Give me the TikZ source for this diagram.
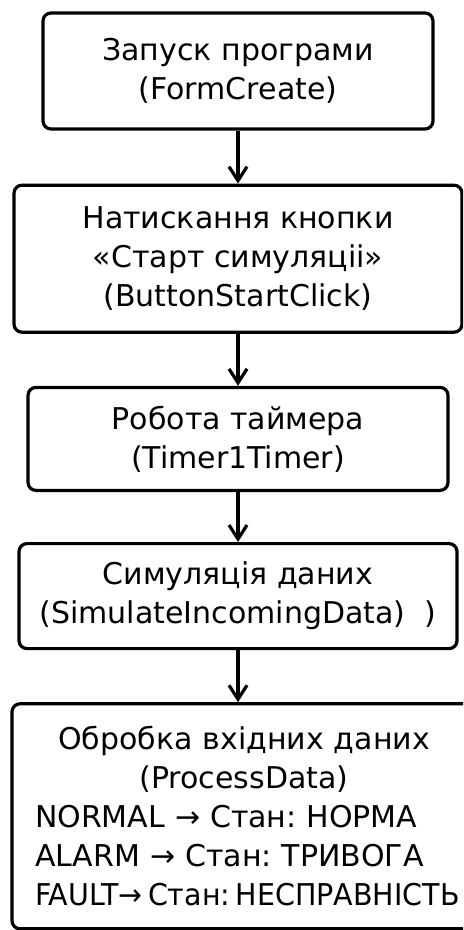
\documentclass[tikz,border=0pt]{standalone}
\usepackage{graphicx}
\usepackage{fontspec}
\setmainfont{DejaVu Sans}
\frenchspacing
\usetikzlibrary{positioning}
\usetikzlibrary{arrows.meta}
\tikzset{
  stepbox/.style={draw, rounded corners=4pt, line width=1.6pt, inner sep=0pt,
    align=center, font=\fontsize{15}{19.5}\selectfont},
  flow/.style={line width=1.6pt, -{Straight Barb[length=7pt,width=9pt]}}
}

\begin{document}
\begin{tikzpicture}
          \useasboundingbox (0,0) rectangle (231.5pt,-465pt);
          \clip (0,0) rectangle (231.5pt,-465pt);

          \node[stepbox, minimum width=195pt, minimum height=58pt] (s1)
            at (119pt,-35.5pt) {Запуск програми\\(FormCreate)};
          \node[stepbox, minimum width=224pt, minimum height=73.5pt,
            below=26.5pt of s1] (s2)
            {Натискання кнопки\\«Старт симуляціі»\\(ButtonStartClick)};
          \node[stepbox, minimum width=210pt, minimum height=51.5pt,
            below=26pt of s2] (s3) {Робота таймера\\(Timer1Timer)};
          \node[stepbox, minimum width=219pt, minimum height=52.5pt,
            below=25pt of s3] (s4)
            {Симуляція даних\\(SimulateIncomingData)~~)};
          \node[stepbox, minimum width=232pt, minimum height=112.5pt,
            text width=209pt, below=26pt of s4, xshift=3pt] (s5)
            {Обробка вхідних даних\\(ProcessData)\\
             \makebox[\linewidth][l]{NORMAL → Стан: НОРМА}\\
             \makebox[\linewidth][l]{ALARM → Стан: ТРИВОГА}\\
             \makebox[\linewidth][l]{\scalebox{0.95}[1]{\spaceskip=0.2em FAULT→ Стан: НЕСПРАВНІСТЬ}}};

          \foreach \i [count=\j from 2] in {1,...,3}{
            \draw[flow] (s\i) -- (s\j);
          }
          \draw[flow] (s4) -- (s4.south |- s5.north);

\end{tikzpicture}
\end{document}
